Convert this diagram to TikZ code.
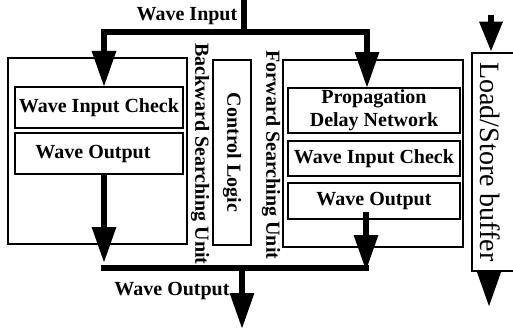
\documentclass[tikz,border=0pt]{standalone}
\usepackage{fontspec}
\setmainfont{Liberation Serif}
\usetikzlibrary{arrows.meta}
\begin{document}
\begin{tikzpicture}[x=1pt,y=-1pt,
  box/.style={draw,line width=2.5pt,inner sep=0pt},
  lbl/.style={font=\fontsize{20}{23}\selectfont\bfseries,inner sep=0pt,align=center},
  bus/.style={line width=6pt},
  arr/.style={line width=6pt,-{Triangle[width=23pt,length=36pt]}},
  sarr/.style={line width=6pt,-{Triangle[width=22pt,length=30pt]}}]
\useasboundingbox (0,0) rectangle (513,329);
% boxes
\node[box,minimum width=179pt,minimum height=186pt] (bsu) at (97.5,151) {};
\node[box,minimum width=168pt,minimum height=41pt,lbl] (lwic) at (99,107.5) {Wave Input Check};
\node[box,minimum width=168pt,minimum height=41pt] (lwo) at (99,153.5) {};
\node[lbl] (lwot) at (93,154) {Wave Output};
\node[box,minimum width=38pt,minimum height=185pt] (ctl) at (232,152.5) {};
\node[lbl,rotate=-90] (ctlt) at (ctl) {Control Logic};
\node[box,minimum width=180pt,minimum height=187pt] (fsu) at (373,153.5) {};
\node[box,minimum width=172pt,minimum height=45pt,lbl] (pdn) at (374,110.5) {Propagation\\Delay Network};
\node[box,minimum width=172pt,minimum height=35pt,lbl] (rwic) at (374,158.5) {Wave Input Check};
\node[box,minimum width=172pt,minimum height=36pt,lbl] (rwo) at (374,201) {Wave Output};
\node[box,minimum width=60pt,minimum height=218pt] (lsb) at (502,162) {};
\node[inner sep=0pt,rotate=-90,font=\fontsize{28}{30}\selectfont] (lsbt) at (490,162) {Load/Store buffer};
% side labels
\node[lbl,rotate=-90] (bsut) at (200,154) {Backward Searching Unit};
\node[lbl,rotate=-90] (fsut) at (271,155) {Forward Searching Unit};
\node[lbl] (win) at (187,16) {Wave Input};
\node[lbl] (wout) at (172,291) {Wave Output};
% coordinates
\coordinate (wtop) at (244,0);
\coordinate (wj) at (244,32);
\coordinate (lin) at (104,87);
\coordinate (rin) at (367,88);
\coordinate (lo) at (104,174);
\coordinate (lot) at (104,263);
\coordinate (ro) at (366,212);
\coordinate (rot) at (366,271);
\coordinate (bl) at (101,268);
\coordinate (br) at (369,268);
\coordinate (bj) at (242,268);
\coordinate (bout) at (242,329);
\coordinate (lstop) at (491,15);
\coordinate (lsbot) at (489,307);
% connectors
\draw[bus] (wtop) -- (wj);
\draw[arr] (wj) -| (lin);
\draw[arr] (wj) -| (rin);
\draw[arr] (lo) -- (lot);
\draw[bus] (bl) -- (br);
\draw[arr] (ro) -- (rot);
\draw[arr] (bj) -- (bout);
\draw[sarr] (lstop) -- (lstop |- lsb.north);
\draw[arr] (lsbot |- lsb.south) -- (lsbot);
\end{tikzpicture}
\end{document}
